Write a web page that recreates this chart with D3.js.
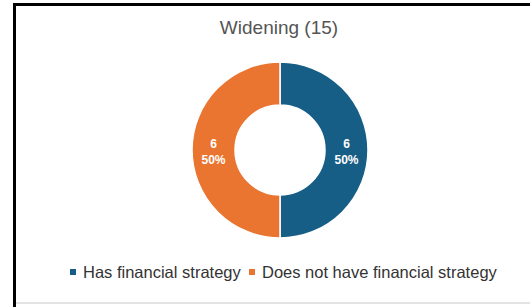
<!DOCTYPE html>
<html>
<head>
<meta charset="utf-8">
<script src="https://cdn.jsdelivr.net/npm/d3@7"></script>
<style>
  body { margin: 0; background: #fff; }
  svg { display: block; font-family: "Liberation Sans", Arial, sans-serif; }
</style>
</head>
<body>
<script>
var title = "Widening (15)";
var categories = ["Has financial strategy", "Does not have financial strategy"];
var counts = [6, 6];
var colors = ["#175e86", "#e97530"];

var width = 530,
    height = 307,
    cx = 280,
    cy = 150,
    outer = 88,
    inner = 45;

var svg = d3.select("body").append("svg")
    .attr("width", width)
    .attr("height", height);

// card frame (screenshot edge)
svg.append("rect").attr("x", 13).attr("y", 3).attr("width", 3).attr("height", height - 3).attr("fill", "#000");
svg.append("rect").attr("x", 13).attr("y", 3).attr("width", width - 13).attr("height", 3).attr("fill", "#000");
svg.append("rect").attr("x", 16).attr("y", 302).attr("width", width - 16).attr("height", 2).attr("fill", "#e3e3e3");

svg.append("text")
    .attr("x", cx - 1)
    .attr("y", 34)
    .attr("text-anchor", "middle")
    .attr("fill", "#555")
    .style("font-size", "19px")
    .text(title);

var data = categories.map(function(c, i) { return {name: c, count: counts[i]}; });

var color = d3.scaleOrdinal().domain(categories).range(colors);

var pie = d3.pie()
    .sort(null)
    .value(function(d) { return d.count; });

var arc = d3.arc()
    .outerRadius(outer)
    .innerRadius(inner);

var g = svg.append("g")
    .attr("transform", "translate(" + cx + "," + cy + ")");

var slices = g.selectAll(".arc")
    .data(pie(data))
  .enter().append("g")
    .attr("class", "arc");

slices.append("path")
    .attr("d", arc)
    .attr("fill", function(d) { return color(d.data.name); })
    .attr("stroke", "#fff")
    .attr("stroke-width", 1.5);

var lab = slices.append("text")
    .attr("transform", function(d) { return "translate(" + arc.centroid(d) + ")"; })
    .attr("text-anchor", "middle")
    .attr("fill", "#fff")
    .style("font-size", "12px")
    .style("font-weight", "bold");

lab.append("tspan")
    .attr("x", 0)
    .attr("y", -2)
    .text(function(d) { return d.data.count; });

lab.append("tspan")
    .attr("x", 0)
    .attr("y", 14)
    .text(function(d) { return Math.round(d.data.count / d3.sum(counts) * 100) + "%"; });

// legend
var legend = svg.append("g").attr("transform", "translate(70,278)");
var xs = [0, 179];
var items = legend.selectAll(".item")
    .data(categories)
  .enter().append("g")
    .attr("class", "item")
    .attr("transform", function(d, i) { return "translate(" + xs[i] + ",0)"; });

items.append("rect")
    .attr("x", 0)
    .attr("y", -9)
    .attr("width", 6)
    .attr("height", 6)
    .attr("fill", function(d) { return color(d); });

items.append("text")
    .attr("x", 13)
    .attr("y", 0)
    .attr("fill", "#333")
    .style("font-size", "16.5px")
    .text(function(d) { return d; });
</script>
</body>
</html>
